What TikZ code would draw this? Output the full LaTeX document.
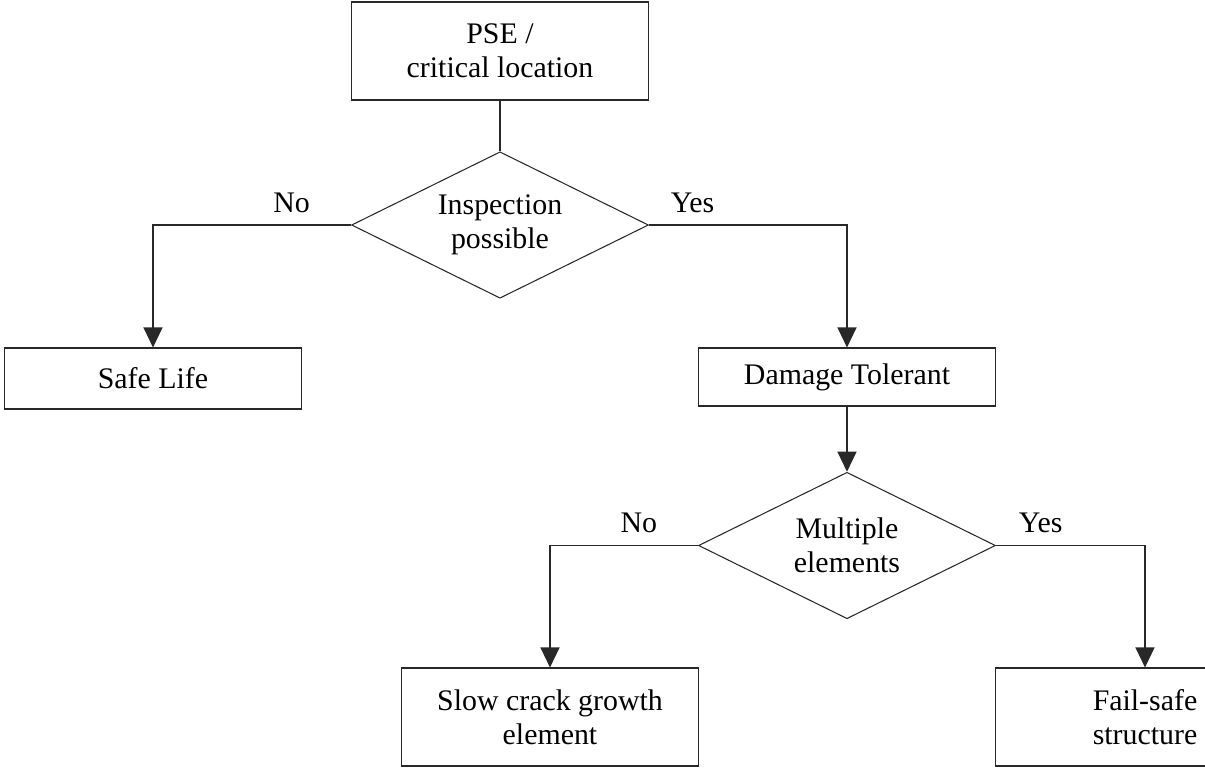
\documentclass[tikz,border=0pt]{standalone}
\usepackage{fontspec}
\setmainfont{Liberation Serif}
\usetikzlibrary{arrows.meta,shapes.geometric}
\definecolor{fcline}{RGB}{40,40,40}
\tikzstyle{box} = [rectangle, draw=fcline, line width=0.6pt, minimum width=5.94cm, text centered, align=center, inner sep=0pt, font=\fontsize{17}{19.5}\selectfont]
\tikzstyle{decision} = [diamond, aspect=2, draw=fcline, line width=0.6pt, minimum width=5.94cm, minimum height=2.93cm, inner sep=0pt, align=center, font=\fontsize{17}{19.5}\selectfont]
\tikzstyle{arrow} = [line width=0.6pt, draw=fcline, -{Triangle[length=0.4cm,width=0.38cm]}]
\tikzstyle{link} = [line width=0.6pt, draw=fcline]
\tikzstyle{answer} = [inner sep=0pt, above=0.24cm, font=\fontsize{17}{19.5}\selectfont]

\begin{document}
\begin{tikzpicture}[x=0.02cm, y=-0.02cm]
\clip (0,0) rectangle (1205,769);
% Nodes
\node (pse) [box, minimum height=1.96cm] at (500,51) {PSE /\\critical location};
\node (insp) [decision] at (500,225) {Inspection\\possible};
\node (safe) [box, minimum height=1.22cm] at (153,378.5) {Safe Life};
\node (damage) [box, minimum height=1.16cm] at (847,377) {Damage Tolerant};
\node (multi) [decision] at (847,545.5) {Multiple\\elements};
\node (slow) [box, minimum height=1.96cm] at (550,717) {Slow crack growth\\element};
\node (fail) [box, minimum height=1.96cm, minimum width=6cm] at (1145,717) {Fail-safe\\structure};

% Connectors
\draw[link] (pse) -- (insp);
\draw[arrow] (insp.west) -| node[answer, pos=0.15] {No} (safe.north);
\draw[arrow] (insp.east) -| node[answer, pos=0.11] {Yes} (damage.north);
\draw[arrow] (damage) -- (multi);
\draw[arrow] (multi.west) -| node[answer, pos=0.2] {No} (slow.north);
\draw[arrow] (multi.east) -| node[answer, pos=0.15] {Yes} (fail.north);
\end{tikzpicture}
\end{document}
